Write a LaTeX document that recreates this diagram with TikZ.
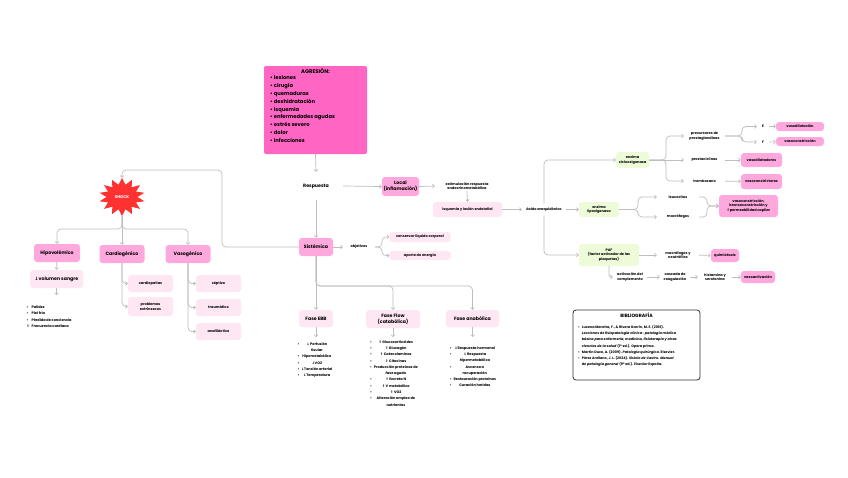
\documentclass[tikz,border=0pt]{standalone}
\usepackage{fontspec}
\setmainfont{Poppins}
\newfontfamily\sym{DejaVu Sans}
\usetikzlibrary{arrows.meta}
\definecolor{agmag}{HTML}{FF66C4}
\definecolor{pinkA}{HTML}{FFA8DD}
\definecolor{pinkL}{HTML}{FFE6F3}
\definecolor{greenL}{HTML}{EDFBD8}
\definecolor{lineg}{HTML}{BDBDBD}
\definecolor{shockred}{HTML}{FF3131}
\definecolor{bibline}{HTML}{333333}
\begin{document}
\begin{tikzpicture}[x=1pt,y=-1pt,
  lbl/.style={font=\bfseries\fontsize{4.7}{5.6}\selectfont},
  sm/.style={font=\bfseries\fontsize{3.5}{4.5}\selectfont},
  boxb/.style={rounded corners=3, inner sep=1, align=center},
  pbox/.style={boxb, fill=pinkA},
  lbox/.style={boxb, fill=pinkL},
  gbox/.style={boxb, fill=greenL},
  txt/.style={inner sep=1, align=center},
  conn/.style={draw=lineg, line width=0.7, rounded corners=4, -{Straight Barb[length=1.8,width=3.6]}},
  lst/.style={inner sep=0, font=\bfseries\fontsize{3.5}{6.3}\selectfont}
]
\fill[white] (0,0) rectangle (848,477);
\useasboundingbox (0,0) rectangle (848,477);

% AGRESION
\node[fill=agmag, rounded corners=2, minimum width=103, minimum height=88, inner sep=0] (agresion) at (315.5,110) {};
\node[font=\bfseries\fontsize{5.3}{6}\selectfont, inner sep=0] (agtitle) at (315.5,71) {AGRESIÓN:};
\node[anchor=north west, inner sep=0, align=left, font=\bfseries\fontsize{5.2}{7.8}\selectfont] (aglist) at (270,75.5) {%
\textbullet\ lesiones\\ \textbullet\ cirugía\\ \textbullet\ quemaduras\\ \textbullet\ deshidratación\\ \textbullet\ isquemia\\ \textbullet\ enfermedades agudas\\ \textbullet\ estrés severo\\ \textbullet\ dolor\\ \textbullet\ infecciones};

% central column
\node[lbl, minimum width=54, minimum height=28, inner sep=0] (respuesta) at (316,186) {Respuesta};
\node[pbox, lbl, minimum width=37, minimum height=19] (local) at (400.5,186.5) {Local\\(inflamación)};
\node[pbox, lbl, minimum width=34, minimum height=18] (sistemica) at (316,247) {Sistémica};
\node[txt, sm, minimum width=64] (estim) at (467,186) {estimulación respuesta\\endocrinometabólica};
\node[lbox, sm, minimum width=69, minimum height=15] (isquemia) at (467.5,209.5) {isquemia y lesión endotelial};
\node[txt, sm, minimum width=44, minimum height=12] (acido) at (544,209.5) {ácido araquidónico};

% objetivos
\node[txt, sm, minimum width=32] (objetivos) at (359,247) {objetivos};
\node[lbox, sm, minimum width=61, minimum height=10] (conservar) at (420,237) {conservar líquido corporal};
\node[lbox, sm, minimum width=61, minimum height=9] (aporte) at (420,255.5) {aporte de energía};

% enzymes
\node[gbox, sm, minimum width=33, minimum height=16] (cox) at (632.5,160) {enzima\\ciclooxigenasa};
\node[gbox, sm, minimum width=40, minimum height=15] (lox) at (599,209.5) {enzima\\lipoxigenasa};
\node[gbox, sm, minimum width=60, minimum height=22] (paf) at (609,255) {PAF\\(factor activador de las\\plaquetas)};

\node[txt, sm, minimum width=41] (prec) at (704.5,136) {precursores de\\prostaglandinas};
\node[txt, sm, minimum width=41] (prost) at (704.5,160) {prostaciclinas};
\node[txt, sm, minimum width=41] (trombox) at (704.5,181) {tromboxano};
\node[txt, sm, minimum width=12] (Ee) at (763,126.5) {E};
\node[txt, sm, minimum width=12] (Ff) at (763,142) {F};
\node[pbox, sm, minimum width=48, minimum height=9] (vasodil) at (800,126.5) {vasodilatación};
\node[pbox, sm, minimum width=48, minimum height=9] (vasocon) at (800,141.5) {vasoconstricción};
\node[pbox, sm, minimum width=41, minimum height=14] (vasodilat) at (761.5,160) {vasodilatadores};
\node[pbox, sm, minimum width=41, minimum height=15] (vasoconst) at (761.5,181.5) {vasoconstrictores};

\node[txt, sm, minimum width=42] (leuco) at (678,197) {leucocitos};
\node[txt, sm, minimum width=42] (macro) at (678,217) {macrófagos};
\node[pbox, sm, minimum width=59, minimum height=22] (result) at (748.5,206) {vasoconstricción,\\broncoconstricción y\\{\sym ⇑}permeabilidad capilar};

\node[txt, sm, minimum width=42] (macneu) at (678,255) {macrófagos y\\neutrófilos};
\node[pbox, sm, minimum width=28, minimum height=13] (quimio) at (725,255.5) {quimiotaxis};
\node[txt, sm, minimum width=34] (activ) at (630,277) {activación del\\complemento};
\node[txt, sm, minimum width=30] (cascada) at (675,277) {cascada de\\coagulación};
\node[txt, sm, minimum width=34] (histam) at (715,277) {histamina y\\serotonina};
\node[pbox, sm, minimum width=34, minimum height=12] (vasoact) at (758,277) {vasoactivación};

% SHOCK
\fill[shockred] ([shift={(122,197)}]90:23 and 19) \foreach \k in {0,...,13} { -- ([shift={(122,197)}]{90+\k*25.714}:23 and 19) -- ([shift={(122,197)}]{90+\k*25.714+12.857}:15.5 and 12.5) } -- cycle;
\node[font=\bfseries\fontsize{4}{5}\selectfont, text=white, minimum width=40, minimum height=38, inner sep=0] (shock) at (122,197) {SHOCK};
\node[pbox, lbl, minimum width=46, minimum height=18] (hipo) at (57,253) {Hipovolémico};
\node[pbox, lbl, minimum width=45, minimum height=18] (cardio) at (122,254) {Cardiogénico};
\node[pbox, lbl, minimum width=45, minimum height=18] (vaso) at (188,254) {Vasogénico};
\node[lbox, lbl, minimum width=53, minimum height=18] (vol) at (56.5,279) {{\sym ↓}volumen sangre};
\coordinate (volend) at (56.5,295);
\node[anchor=north west, lst] (hipolist) at (26.5,304) {%
\begin{tabular}{@{}l@{\hspace{2pt}}l@{}}
\textbullet & Palidez\\
\textbullet & Piel fría\\
\textbullet & Pérdida de conciencia\\
{\sym ⇑} & Frecuencia cardiaca
\end{tabular}};
\node[lbox, sm, minimum width=45, minimum height=17] (cardiopatias) at (150.5,283.5) {cardiopatías};
\node[lbox, sm, minimum width=45, minimum height=19] (problemas) at (150.5,306.5) {problemas\\extrínsecos};
\node[lbox, sm, minimum width=45, minimum height=17] (septico) at (218.5,283.5) {séptico};
\node[lbox, sm, minimum width=45, minimum height=17] (traumatico) at (218.5,307.5) {traumático};
\node[lbox, sm, minimum width=45, minimum height=17] (anafilactico) at (218.5,331.5) {anafiláctico};

% fases
\node[lbox, lbl, minimum width=34, minimum height=17] (ebb) at (316,318.5) {Fase EBB};
\node[lbox, lbl, minimum width=54, minimum height=18] (flow) at (393,319) {Fase Flow\\(catabólica)};
\node[lbox, lbl, minimum width=53, minimum height=17] (anab) at (472.5,318.5) {Fase anabólica};
\coordinate (ebbend) at (316,337);
\coordinate (flowend) at (393,337);
\coordinate (anabend) at (472.5,337);

\node[anchor=north, lst] (ebblist) at (315,340.5) {%
\begin{tabular}{@{}l@{\hspace{2pt}}c@{}}
\textbullet & {\sym ↓} Perfusión\\
 & tisular\\
\textbullet & Hipometabólico\\
\textbullet & {\sym ↓}VO2\\
\textbullet & {\sym ↓}Tensión arterial\\
\textbullet & {\sym ↓}Temperatura
\end{tabular}};
\node[anchor=north, lst] (flowlist) at (394,338.5) {%
\begin{tabular}{@{}l@{\hspace{2pt}}c@{}}
\textbullet & {\sym ⇑} Glucocorticoides\\
\textbullet & {\sym ⇑} Glucagón\\
\textbullet & {\sym ⇑} Catecolaminas\\
\textbullet & {\sym ⇑} Citocinas\\
\textbullet & Producción proteínas de\\
 & fase aguda\\
\textbullet & {\sym ⇑} Excreta N\\
\textbullet & {\sym ⇑} V metabólico\\
\textbullet & {\sym ⇑} VO2\\
\textbullet & Alteración empleo de\\
 & nutrientes
\end{tabular}};
\node[anchor=north, lst] (anablist) at (473,344.5) {%
\begin{tabular}{@{}l@{\hspace{2pt}}c@{}}
\textbullet & {\sym ⇓}Respuesta hormonal\\
\textbullet & {\sym ⇓} Respuesta\\
 & hipermetabólica\\
\textbullet & Ascenso a\\
 & recuperación\\
\textbullet & Restauración proteínas\\
\textbullet & Curación heridas
\end{tabular}};

% bibliography
\node[draw=bibline, line width=0.8, rounded corners=3, fill=white, minimum width=127, minimum height=70, inner sep=0] (bib) at (636.5,345) {};
\node[lbl, inner sep=0] (bibtitle) at (636.5,315.5) {BIBLIOGRAFÍA};
\node[anchor=north west, inner sep=0, font=\bfseries\fontsize{3.4}{6.3}\selectfont] (biblist) at (578,323.5) {%
\begin{tabular}{@{}l@{\hspace{2pt}}l@{}}
\textbullet & Lucena Marotta, F., \& Rivera Garrín, M. E. (2016).\\
 & \itshape Lecciones de fisiopatología clínica : patología médica\\
 & \itshape básica para enfermería, medicina, fisioterapia y otras\\
 & \itshape ciencias de la salud \upshape (1ª ed.). Opera prima.\\
\textbullet & Martín Duce, A. (2009). \itshape Patología quirúrgica\upshape. Elsevier.\\
\textbullet & Pérez Arellano, J. L. (2024). \itshape Sisinio de Castro. Manual\\
 & \itshape de patología general \upshape (9ª ed.). Elsevier España.
\end{tabular}};

% connectors
\draw[conn] (agresion.south) -- (respuesta.north);
\draw[conn] (respuesta.east) -- (local.west);
\draw[conn] (respuesta.south) -- (sistemica.north);
\draw[conn] (sistemica.west) -- (222,247) -- (222,170) -- (122,170) -- (shock.north);
\draw[conn] (shock.south) -- (122,229) -- (57,229) -- (hipo.north);
\draw[conn] (shock.south) -- (cardio.north);
\draw[conn] (shock.south) -- (122,229) -- (188,229) -- (vaso.north);
\draw[conn] (hipo) -- (vol);
\draw[conn] (vol.south) -- (volend);
\draw[conn] (cardio.south) |- (cardiopatias.west);
\draw[conn] (cardio.south) |- (problemas.west);
\draw[conn] (vaso.south) |- (septico.west);
\draw[conn] (vaso.south) |- (traumatico.west);
\draw[conn] (vaso.south) |- (anafilactico.west);

\draw[conn] (local.east) -- (estim.west);
\draw[conn] (estim.south) -- (isquemia.north);
\draw[conn] (isquemia.east) -- (acido.west);
\draw[conn] (acido.north) |- (cox.west);
\draw[conn] (acido.east) -- (lox.west);
\draw[conn] (acido.south) |- (paf.west);

\draw[conn] (cox.east) -- (666,160) |- (prec.west);
\draw[conn] (cox.east) -- (prost.west);
\draw[conn] (cox.east) -- (666,160) |- (trombox.west);
\draw[conn] (prec.east) -- (742,136) |- (Ee.west);
\draw[conn] (prec.east) -- (742,136) |- (Ff.west);
\draw[conn] (Ee) -- (vasodil);
\draw[conn] (Ff) -- (vasocon);
\draw[conn] (prost) -- (vasodilat);
\draw[conn] (trombox) -- (vasoconst);

\draw[conn] (lox.east) -- (638,209.5) |- (leuco.west);
\draw[conn] (lox.east) -- (638,209.5) |- (macro.west);
\draw[conn] (leuco.east) -| (707,206) -- (result.west);
\draw[conn] (macro.east) -| (707,206) -- (result.west);

\draw[conn] (paf) -- (macneu);
\draw[conn] (macneu) -- (quimio);
\draw[conn, rounded corners=2] (paf.south) |- (activ.west);
\draw[conn] (activ) -- (cascada);
\draw[conn] (cascada) -- (histam);
\draw[conn] (histam) -- (vasoact);

\draw[conn] (sistemica) -- (objetivos);
\draw[conn] (objetivos.east) -- (382,247) |- (conservar.west);
\draw[conn] (objetivos.east) -- (382,247) |- (aporte.west);

\draw[conn] (sistemica) -- (ebb);
\draw[conn] (sistemica.south) -- (316,286) -- (393,286) -- (flow.north);
\draw[conn] (sistemica.south) -- (316,286) -- (472.5,286) -- (anab.north);
\draw[conn] (ebb) -- (ebbend);
\draw[conn] (flow) -- (flowend);
\draw[conn] (anab) -- (anabend);
\end{tikzpicture}
\end{document}
